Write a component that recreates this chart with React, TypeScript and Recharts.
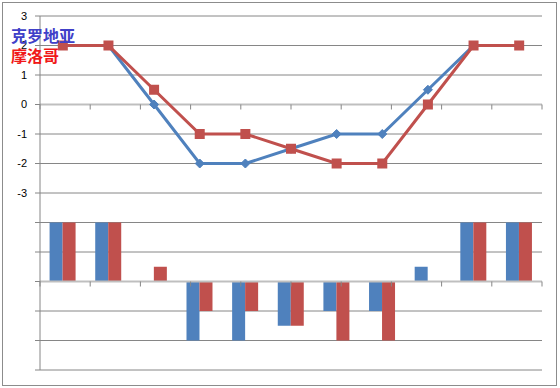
import React from "react";
import {
  ComposedChart,
  Line,
  Bar,
  XAxis,
  YAxis,
  CartesianGrid,
  ReferenceLine,
} from "recharts";

const rounds = ["1", "2", "3", "4", "5", "6", "7", "8", "9", "10", "11"];
const croatia = [2, 2, 0, -2, -2, -1.5, -1, -1, 0.5, 2, 2];
const morocco = [2, 2, 0.5, -1, -1, -1.5, -2, -2, 0, 2, 2];
const gridTicks = [3, 2, 1, 0, -1, -2, -3, -4, -5, -6, -7, -8, -9];
const tickLabels = ["3", "2", "1", "0", "-1", "-2", "-3"];
const boundaries = [0, 1, 2, 3, 4, 5, 6, 7, 8, 9, 10, 11];

const BLUE = "#4F81BD";
const RED = "#C0504D";
const GRID = "#868686";

const data = rounds.map((r, i) => ({
  round: r,
  croatia: croatia[i],
  morocco: morocco[i],
  croatiaBar: croatia[i],
  moroccoBar: morocco[i],
}));

const Diamond = (props: any) => {
  const { cx, cy } = props;
  if (cx == null || cy == null) return null;
  const r = 4.5;
  return (
    <polygon
      points={`${cx},${cy - r} ${cx + r},${cy} ${cx},${cy + r} ${cx - r},${cy}`}
      fill={BLUE}
      stroke={BLUE}
    />
  );
};

const Square = (props: any) => {
  const { cx, cy } = props;
  if (cx == null || cy == null) return null;
  const s = 10;
  return <rect x={cx - s / 2} y={cy - s / 2} width={s} height={s} fill={RED} />;
};

const fmt = (v: number) => {
  const s = String(v);
  return tickLabels.includes(s) ? s : "";
};

export default function App() {
  return (
    <div
      style={{
        position: "absolute",
        left: 0,
        top: 0,
        width: 560,
        height: 388,
        background: "#fff",
      }}
    >
      <div
        style={{
          position: "absolute",
          left: 2,
          top: 2,
          width: 553,
          height: 382,
          border: "1px solid #8C8C8C",
        }}
      />
      <ComposedChart
        width={560}
        height={388}
        data={data}
        margin={{ top: 16, right: 18, bottom: 18, left: 0 }}
        barCategoryGap="21%"
        barGap={0}
        style={{ position: "absolute", left: 0, top: 0 }}
      >
        <XAxis xAxisId="cat" dataKey="round" hide />
        <XAxis xAxisId="grid" type="number" domain={[0, 11]} allowDataOverflow hide />
        <YAxis
          yAxisId="line"
          orientation="left"
          domain={[-9, 3]}
          ticks={gridTicks}
          interval={0}
          width={40}
          tickFormatter={fmt}
          axisLine={{ stroke: GRID }}
          tickLine={{ stroke: GRID }}
          tickSize={5}
          tickMargin={8}
          tick={{ fill: "#000", fontSize: 11, fontFamily: "Liberation Sans" }}
        />
        <YAxis yAxisId="bar" orientation="right" domain={[-3, 9]} width={0} hide />
        <CartesianGrid
          xAxisId="cat"
          yAxisId="line"
          vertical={false}
          stroke={GRID}
        />
        <ReferenceLine y={0} yAxisId="line" xAxisId="cat" stroke="#BFBFBF" strokeWidth={2} />
        <ReferenceLine y={0} yAxisId="bar" xAxisId="cat" stroke="#BFBFBF" strokeWidth={2} />
        {boundaries.map((k) => (
          <ReferenceLine
            key={"tl" + k}
            xAxisId="grid"
            yAxisId="line"
            segment={[
              { x: k, y: 0 },
              { x: k, y: -0.17 },
            ]}
            stroke={GRID}
          />
        ))}
        {boundaries.map((k) => (
          <ReferenceLine
            key={"tb" + k}
            xAxisId="grid"
            yAxisId="bar"
            segment={[
              { x: k, y: 0 },
              { x: k, y: -0.17 },
            ]}
            stroke={GRID}
          />
        ))}
        <Bar xAxisId="cat" yAxisId="bar" dataKey="croatiaBar" fill={BLUE} isAnimationActive={false} />
        <Bar xAxisId="cat" yAxisId="bar" dataKey="moroccoBar" fill={RED} isAnimationActive={false} />
        <Line
          xAxisId="cat"
          yAxisId="line"
          dataKey="croatia"
          stroke={BLUE}
          strokeWidth={3}
          dot={<Diamond />}
          activeDot={false}
          isAnimationActive={false}
        />
        <Line
          xAxisId="cat"
          yAxisId="line"
          dataKey="morocco"
          stroke={RED}
          strokeWidth={3}
          dot={<Square />}
          activeDot={false}
          isAnimationActive={false}
        />
      </ComposedChart>
      <div
        style={{
          position: "absolute",
          left: 11,
          top: 25,
          fontFamily: "Noto Sans CJK SC",
          fontWeight: "bold",
          fontSize: 16,
          lineHeight: "20px",
          color: "#4040C8",
        }}
      >
        克罗地亚
      </div>
      <div
        style={{
          position: "absolute",
          left: 11,
          top: 45,
          fontFamily: "Noto Sans CJK SC",
          fontWeight: "bold",
          fontSize: 16,
          lineHeight: "20px",
          color: "#F01818",
        }}
      >
        摩洛哥
      </div>
    </div>
  );
}
